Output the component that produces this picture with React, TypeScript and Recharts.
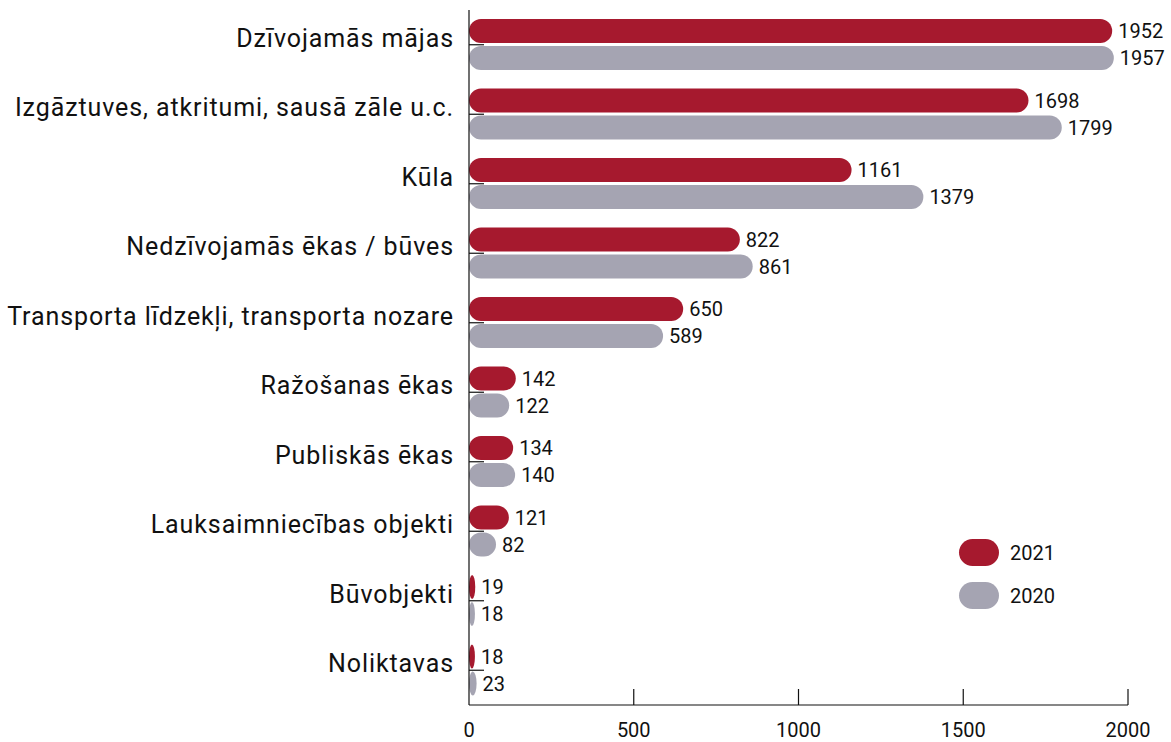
import React from 'react'
import { BarChart, Bar, XAxis, YAxis, LabelList } from 'recharts'

const categories = [
  'Dzīvojamās mājas',
  'Izgāztuves, atkritumi, sausā zāle u.c.',
  'Kūla',
  'Nedzīvojamās ēkas / būves',
  'Transporta līdzekļi, transporta nozare',
  'Ražošanas ēkas',
  'Publiskās ēkas',
  'Lauksaimniecības objekti',
  'Būvobjekti',
  'Noliktavas',
]
const values2021 = [1952, 1698, 1161, 822, 650, 142, 134, 121, 19, 18]
const values2020 = [1957, 1799, 1379, 861, 589, 122, 140, 82, 18, 23]
const xTicks = [0, 500, 1000, 1500, 2000]
const legendItems = ['2021', '2020']

const RED = '#a6192e'
const GRAY = '#a5a4b2'
const FONT = 'Roboto, "Noto Sans", sans-serif'

const data = categories.map((name, i) => ({
  name,
  y2021: values2021[i],
  y2020: values2020[i],
}))

// pill shape; narrow bars turn into ellipses like the original
const PillBar = (props: any) => {
  const { x, y, width, height, fill } = props
  if (!width || width <= 0) return null
  return (
    <rect
      x={x}
      y={y}
      width={width}
      height={height}
      rx={Math.min(height / 2, width / 2)}
      ry={height / 2}
      fill={fill}
    />
  )
}

const XTick = ({ x, y, payload }: any) => (
  <g>
    {payload.value !== 0 && <line x1={x} x2={x} y1={y - 16} y2={y} stroke="#111" strokeWidth={1.2} />}
    <text x={x} y={y + 32} textAnchor="middle" fontSize={20} fill="#111" fontFamily={FONT}>
      {payload.value}
    </text>
  </g>
)

const YTick = ({ x, y, payload }: any) => (
  <g>
    <line x1={x} x2={x + 15} y1={y} y2={y} stroke="#111" strokeWidth={1.2} />
    <text
      x={x - 15}
      y={y + 2}
      textAnchor="end"
      fontSize={25}
      letterSpacing={0.9}
      fill="#111"
      fontFamily={FONT}
    >
      {payload.value}
    </text>
  </g>
)

export default function App() {
  return (
    <div style={{ position: 'absolute', left: 0, top: 0, width: 1171, height: 742, background: '#fff' }}>
      <BarChart
        width={1171}
        height={742}
        data={data}
        layout="vertical"
        margin={{ top: 10, right: 43, bottom: 7, left: 0 }}
        barSize={24}
        barGap={3}
      >
        <XAxis
          type="number"
          domain={[0, 2000]}
          ticks={xTicks}
          tick={<XTick />}
          tickLine={false}
          tickSize={0}
          tickMargin={0}
          height={30}
          axisLine={{ stroke: '#111', strokeWidth: 1.2 }}
        />
        <YAxis
          type="category"
          dataKey="name"
          width={469}
          tick={<YTick />}
          tickLine={false}
          tickSize={0}
          tickMargin={0}
          axisLine={{ stroke: '#111', strokeWidth: 1.2 }}
          interval={0}
        />
        <Bar dataKey="y2021" fill={RED} shape={<PillBar />} isAnimationActive={false}>
          <LabelList dataKey="y2021" position="right" offset={6} fontSize={20} fill="#111" fontFamily={FONT} />
        </Bar>
        <Bar dataKey="y2020" fill={GRAY} shape={<PillBar />} isAnimationActive={false}>
          <LabelList dataKey="y2020" position="right" offset={6} fontSize={20} fill="#111" fontFamily={FONT} />
        </Bar>
      </BarChart>
      {/* legend */}
      {legendItems.map((label, i) => (
        <div
          key={label}
          style={{
            position: 'absolute',
            left: 959,
            top: 539 + i * 43,
            display: 'flex',
            alignItems: 'center',
            fontFamily: FONT,
            fontSize: 20,
            color: '#111',
          }}
        >
          <span
            style={{
              display: 'inline-block',
              width: 40,
              height: 27,
              borderRadius: 14,
              background: i === 0 ? RED : GRAY,
              marginRight: 11,
            }}
          />
          <span>{label}</span>
        </div>
      ))}
    </div>
  )
}
